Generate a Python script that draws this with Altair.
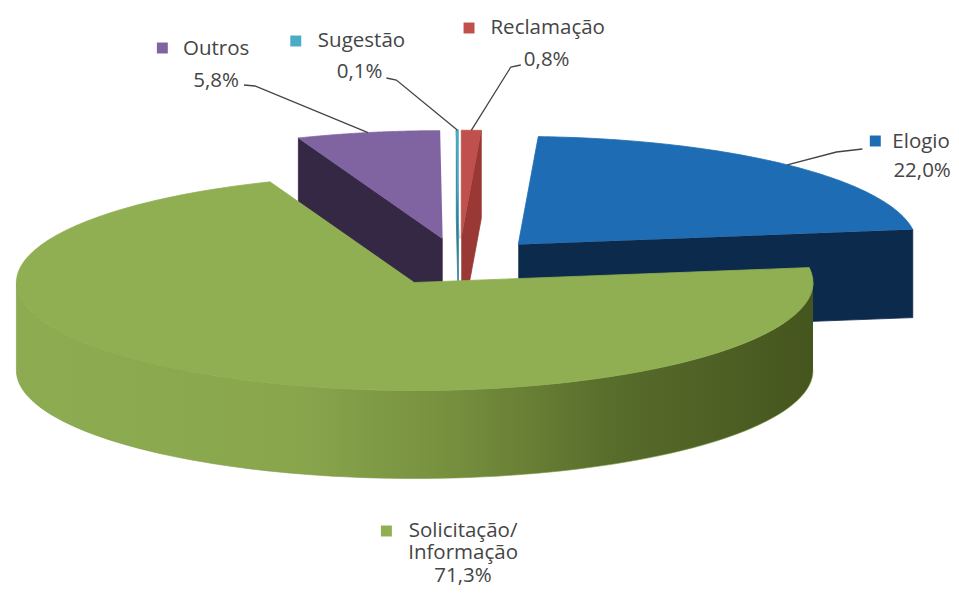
import altair as alt
import pandas as pd

# ---------------- data ----------------
cats = ["Reclamação", "Elogio", "Solicitação/Informação", "Outros", "Sugestão"]
vals = [0.8, 22.0, 71.3, 5.8, 0.1]

# ---------------- styles ----------------
top_colors = ["#C0504D", "#1E6DB4", "#8FAF52", "#8064A2", "#4BACC6"]
side_colors = ["#9A3835", "#0C2A4C", "#5E7531", "#352845", "#2C7F95"]

# ---------------- layout (pixel space of the page) ----------------
CX, CY = 461, 262       # pie centre
RX, RY = 400, 108       # top ellipse radii
H = 88                  # thickness
E = 0.22                # explosion
N = 90                  # arc samples

# label layout: key square, text line centres, leader start points
label_layout = {
    "Outros":     dict(key=(163, 48), lines=[("Outros", 217, 49)], pct=(217, 81),
                       lead=[(245, 85), (256, 86)]),
    "Sugestão":   dict(key=(297, 41), lines=[("Sugestão", 363, 41)], pct=(361, 72),
                       lead=[(388, 78), (398, 80)]),
    "Reclamação": dict(key=(471, 28), lines=[("Reclamação", 550, 28)], pct=(549, 60),
                       lead=[(523, 65), (513, 67)]),
    "Elogio":     dict(key=(879, 141), lines=[("Elogio", 925, 142)], pct=(926, 171),
                       lead=[(866, 149), (840, 152)]),
    "Solicitação/Informação": dict(key=(388, 531),
                       lines=[("Solicitação/", 465, 531), ("Informação", 465, 553)],
                       pct=(465, 576), lead=None),
}

df = pd.DataFrame({"category": cats, "value": vals, "k": list(range(len(cats)))})
style_df = pd.DataFrame({"category": cats, "topc": top_colors, "sidec": side_colors})
lead_df = pd.DataFrame([
    {"category": c, "lx1": l["lead"][0][0], "ly1": l["lead"][0][1],
     "lx2": l["lead"][1][0], "ly2": l["lead"][1][1]}
    for c, l in label_layout.items() if l["lead"]
])

text_rows, key_rows = [], []
for c, v, col in zip(cats, vals, top_colors):
    l = label_layout[c]
    for t, x, y in l["lines"]:
        text_rows.append({"t": t, "x": x, "y": y})
    text_rows.append({"t": f"{v:.1f}".replace(".", ",") + "%", "x": l["pct"][0], "y": l["pct"][1]})
    key_rows.append({"category": c, "x": l["key"][0], "y": l["key"][1], "col": col})
text_df = pd.DataFrame(text_rows)
key_df = pd.DataFrame(key_rows)

xs = alt.Scale(domain=[8, 951], nice=False, zero=False)
ys = alt.Scale(domain=[8, 595], nice=False, zero=False, reverse=True)
X = lambda f: alt.X(f, type="quantitative", scale=xs, axis=None)
Y = lambda f: alt.Y(f, type="quantitative", scale=ys, axis=None)

base = (
    alt.Chart(df)
    .transform_joinaggregate(total="sum(value)")
    .transform_window(cum="sum(value)", sort=[alt.SortField("k", order="ascending")])
    .transform_calculate(a="2*PI*(datum.cum - datum.value)/datum.total",
                         b="2*PI*datum.cum/datum.total")
    .transform_calculate(m="(datum.a + datum.b)/2")
    .transform_calculate(ox=f"{CX} + {E*RX}*sin(datum.m)",
                         oy=f"{CY} - {E*RY}*cos(datum.m)")
    .transform_lookup(lookup="category",
                      from_=alt.LookupData(style_df, "category", ["topc", "sidec"]))
)

# radial cut faces
cut = (
    base.transform_calculate(faces="[0, 1]")
    .transform_flatten(["faces"])
    .transform_filter("datum.faces == 0 ? sin(datum.a) < -1e-9 : sin(datum.b) > 1e-9")
    .transform_calculate(ang="datum.faces == 0 ? datum.a : datum.b",
                         fid="datum.category + '_' + datum.faces")
    .transform_calculate(pts="sequence(0, 4)")
    .transform_flatten(["pts"])
    .transform_calculate(ex=f"datum.ox + {RX}*sin(datum.ang)",
                         ey=f"datum.oy - {RY}*cos(datum.ang)")
    .transform_calculate(
        px="(datum.pts == 1 || datum.pts == 2) ? datum.ex : datum.ox",
        py=f"datum.pts == 0 ? datum.oy : datum.pts == 1 ? datum.ey : datum.pts == 2 ? datum.ey + {H} : datum.oy + {H}")
    .mark_line(filled=True, strokeWidth=0.8, interpolate="linear")
    .encode(x=X("px"), y=Y("py"),
            fill=alt.Fill("sidec:N", scale=None),
            stroke=alt.Stroke("sidec:N", scale=None),
            detail="fid:N", order=alt.Order("pts:Q"))
)

# front outer walls
wall_grad = {
    "gradient": "linear", "x1": 0, "x2": 1, "y1": 0, "y2": 0,
    "stops": [
        {"offset": 0.0, "color": "#8DAC51"},
        {"offset": 0.35, "color": "#89A64D"},
        {"offset": 0.55, "color": "#768F3E"},
        {"offset": 0.75, "color": "#586C2B"},
        {"offset": 1.0, "color": "#45551E"},
    ],
}
wall = (
    base.transform_calculate(wa="max(datum.a, PI/2)", wb="min(datum.b, 3*PI/2)")
    .transform_filter("datum.wa < datum.wb")
    .transform_calculate(pts=f"sequence(0, {2*N+2})")
    .transform_flatten(["pts"])
    .transform_calculate(j=f"datum.pts <= {N} ? datum.pts : {2*N+1} - datum.pts",
                         dz=f"datum.pts <= {N} ? 0 : {H}")
    .transform_calculate(t=f"datum.wa + (datum.wb - datum.wa)*datum.j/{N}")
    .transform_calculate(px=f"datum.ox + {RX}*sin(datum.t)",
                         py=f"datum.oy - {RY}*cos(datum.t) + datum.dz")
    .mark_line(filled=True, fill=wall_grad, stroke="#7E9A45", strokeWidth=0.6)
    .encode(x=X("px"), y=Y("py"), detail="category:N", order=alt.Order("pts:Q"))
)

# top faces
top = (
    base.transform_calculate(pts=f"sequence(0, {N+2})")
    .transform_flatten(["pts"])
    .transform_calculate(t=f"datum.a + (datum.b - datum.a)*(datum.pts - 1)/{N}")
    .transform_calculate(
        px=f"datum.pts == 0 ? datum.ox : datum.ox + {RX}*sin(datum.t)",
        py=f"datum.pts == 0 ? datum.oy : datum.oy - {RY}*cos(datum.t)")
    .mark_line(filled=True, strokeWidth=0.8)
    .encode(x=X("px"), y=Y("py"),
            fill=alt.Fill("topc:N", scale=None),
            stroke=alt.Stroke("topc:N", scale=None),
            detail="category:N", order=alt.Order("pts:Q"))
)

# leader lines
leaders = (
    base.transform_lookup(lookup="category",
                          from_=alt.LookupData(lead_df, "category", ["lx1", "ly1", "lx2", "ly2"]))
    .transform_filter("isValid(datum.lx1)")
    .transform_calculate(pts="sequence(0, 3)")
    .transform_flatten(["pts"])
    .transform_calculate(
        px=f"datum.pts == 0 ? datum.lx1 : datum.pts == 1 ? datum.lx2 : datum.ox + {RX}*sin(datum.m)",
        py=f"datum.pts == 0 ? datum.ly1 : datum.pts == 1 ? datum.ly2 : datum.oy - {RY}*cos(datum.m)")
    .mark_line(color="#444444", strokeWidth=1.3)
    .encode(x=X("px"), y=Y("py"), detail="category:N", order=alt.Order("pts:Q"))
)

keys = (
    alt.Chart(key_df)
    .mark_square(size=120, opacity=1, filled=True)
    .encode(x=X("x"), y=Y("y"), color=alt.Color("col:N", scale=None))
)

texts = (
    alt.Chart(text_df)
    .mark_text(font="Open Sans", fontSize=20.5, color="#454545", align="center", baseline="middle")
    .encode(x=X("x"), y=Y("y"), text="t:N")
)

chart = (
    alt.layer(cut, wall, top, leaders, keys, texts)
    .properties(width=943, height=587, padding=0,
                autosize=alt.AutoSizeParams(type="fit", contains="padding"))
    .configure_view(stroke=None)
)

chart.save("out.html", embed_options={"renderer": "svg", "actions": False})
